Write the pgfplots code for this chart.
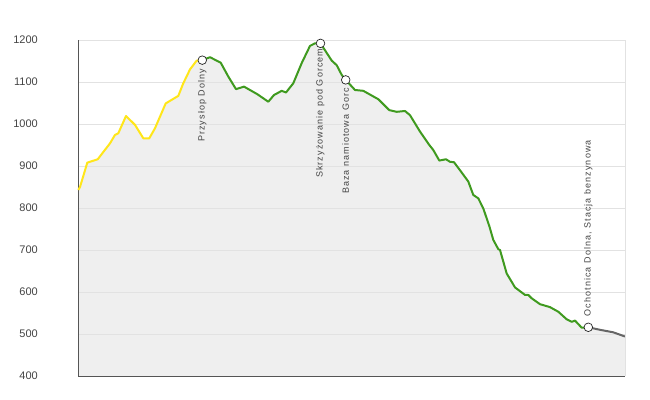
\documentclass[border=0pt]{standalone}
\usepackage{pgfplots}
\pgfplotsset{compat=1.18}
\usepackage{fontspec}
\setmainfont{Liberation Sans}
\newfontfamily\lblfont[LetterSpace=12]{Liberation Sans}
\definecolor{cyel}{HTML}{FFE61A}
\definecolor{cgrn}{HTML}{3F9A1F}
\definecolor{cgry}{HTML}{666666}
\definecolor{cfill}{HTML}{EFEFEF}
\definecolor{cgrid}{HTML}{E2E2E2}
\definecolor{caxis}{HTML}{555555}
\definecolor{ctxt}{HTML}{444444}
\pgfplotsset{set layers}
\begin{document}
\begin{tikzpicture}
\begin{axis}[
  scale only axis,
  width=547bp, height=336bp,
  xmin=78, xmax=625, ymin=400, ymax=1200,
  ytick={400,500,...,1200},
  xtick=\empty,
  ymajorgrids,
  grid style={cgrid, line width=0.8bp},
  axis x line*=bottom, axis y line*=left,
  axis line style={caxis, line width=1bp, -},
  major tick length=0pt,
  yticklabel style={font=\fontsize{11bp}{13bp}\selectfont, text=ctxt, anchor=east, inner sep=0pt, xshift=-40bp},
  /pgf/number format/assume math mode=true,
  /pgf/number format/1000 sep={},
  clip=false,
]
\coordinate (O) at (rel axis cs:0,0);
% fill
\addplot[on layer=axis background, draw=none, fill=cfill] coordinates {
(78,400) (78.3,843) (80,850) (87.3,908) (97.7,916) (110,954) (115,974) (118.3,978) (126,1019) (135,998)
(143.3,966) (149.3,966) (155,990) (165.7,1049) (178.3,1067) (183.3,1097) (190,1130) (196.7,1151) (202.3,1152)
(210,1159) (220.7,1146) (228.3,1113) (236,1083) (244,1089) (257.3,1071) (268.3,1053) (274,1069) (281.7,1079)
(286,1075) (293.3,1097) (301.7,1145) (310,1186) (315,1192) (320.5,1192)
(331.7,1151) (336.7,1140) (341.7,1117) (345.7,1105) (355,1081) (363.3,1079) (378.3,1059) (389.3,1033)
(396.7,1029) (405,1031) (410,1021) (420,982) (429.3,950) (433.3,938) (439.3,913) (446,916) (450,910) (454,909)
(460,890) (468.3,863) (473.3,831) (478.3,823) (483.3,799) (489.3,757) (493.3,724) (498.3,702) (500,700)
(506.7,644) (515,611) (525,593) (528.3,593) (531.7,585) (540,571) (550,564) (558.3,553) (566.7,535)
(571.7,529) (575,532) (581.7,515) (588.3,516) (600,510) (613.3,504) (625,494) (625,400)
} \closedcycle;
% yellow
\addplot[cyel, line width=2bp, line join=round] coordinates {
(78.3,843) (80,850) (87.3,908) (97.7,916) (110,954) (115,974) (118.3,978) (126,1019) (135,998)
(143.3,966) (149.3,966) (155,990) (165.7,1049) (178.3,1067) (183.3,1097) (190,1130) (196.7,1151) (202.3,1152)
};
% green
\addplot[cgrn, line width=2bp, line join=round] coordinates {
(202.3,1152)
(210,1159) (220.7,1146) (228.3,1113) (236,1083) (244,1089) (257.3,1071) (268.3,1053) (274,1069) (281.7,1079)
(286,1075) (293.3,1097) (301.7,1145) (310,1186) (315,1192) (320.5,1192)
(331.7,1151) (336.7,1140) (341.7,1117) (345.7,1105) (355,1081) (363.3,1079) (378.3,1059) (389.3,1033)
(396.7,1029) (405,1031) (410,1021) (420,982) (429.3,950) (433.3,938) (439.3,913) (446,916) (450,910) (454,909)
(460,890) (468.3,863) (473.3,831) (478.3,823) (483.3,799) (489.3,757) (493.3,724) (498.3,702) (500,700)
(506.7,644) (515,611) (525,593) (528.3,593) (531.7,585) (540,571) (550,564) (558.3,553) (566.7,535)
(571.7,529) (575,532) (581.7,515) (588.3,516)
};
% gray
\addplot[cgry, line width=2bp, line join=round] coordinates {
(588.3,516) (600,510) (613.3,504) (625,494)
};
% right border
\draw[cgrid, line width=0.8bp] (rel axis cs:1,0) -- (rel axis cs:1,1);
% markers
\addplot[only marks, mark=*, mark size=4.3bp, mark options={fill=white, draw=black!85, line width=0.7bp}] coordinates {
(202.3,1152) (320.5,1192) (345.7,1105) (588.3,516)
};
% labels
\node[rotate=90, anchor=east, inner sep=0pt, text=ctxt, font=\lblfont\fontsize{9bp}{11bp}\selectfont] at (axis cs:202.3,1132) {Przysłop Dolny};
\node[rotate=90, anchor=east, inner sep=0pt, text=ctxt, font=\lblfont\fontsize{9bp}{11bp}\selectfont] at (axis cs:320.3,1180) {Skrzyżowanie pod Gorcem};
\node[rotate=90, anchor=east, inner sep=0pt, text=ctxt, font=\lblfont\fontsize{9bp}{11bp}\selectfont] at (axis cs:345.7,1086) {Baza namiotowa Gorc};
\node[rotate=90, anchor=west, inner sep=0pt, text=ctxt, font=\lblfont\fontsize{9bp}{11bp}\selectfont] at (axis cs:588.3,542) {Ochotnica Dolna, Stacja benzynowa};
\end{axis}
\path[use as bounding box] (O) ++(-78bp,-24bp) rectangle ++(650bp,400bp);
\end{tikzpicture}
\end{document}
